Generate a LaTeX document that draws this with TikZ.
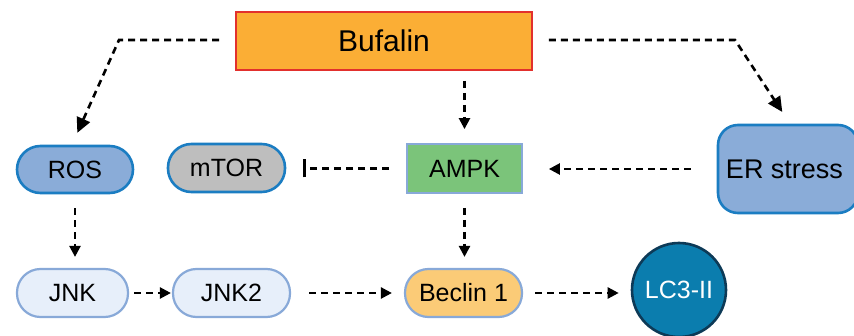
\documentclass[tikz,border=0pt]{standalone}
\usepackage{fontspec}
\setmainfont{Liberation Sans}
\usetikzlibrary{arrows.meta}
\definecolor{bufF}{HTML}{FBAE35}
\definecolor{bufD}{HTML}{E2302D}
\definecolor{rosF}{HTML}{8AACD8}
\definecolor{blueD}{HTML}{1B7DC2}
\definecolor{grayF}{HTML}{BEBEBE}
\definecolor{ampkF}{HTML}{7BC47A}
\definecolor{lightD}{HTML}{88A9D8}
\definecolor{jnkF}{HTML}{E7EFFA}
\definecolor{becF}{HTML}{FBCB77}
\definecolor{lcF}{HTML}{0B7DAE}
\definecolor{lcD}{HTML}{0D3A57}
\tikzset{
  pill/.style={draw, line width=2pt, rounded corners=23.5pt, inner sep=0pt, font=\fontsize{25}{29}\selectfont},
  boxnode/.style={draw, inner sep=0pt, font=\fontsize{25}{29}\selectfont},
  conn/.style={line width=2.4pt, dash pattern=on 7pt off 5pt, -{Triangle[length=11pt,width=11pt]}},
  bigconn/.style={line width=2.6pt, dash pattern=on 7pt off 5pt, -{Triangle[length=15pt,width=14pt]}, line join=miter},
  inhib/.style={line width=2.4pt, dash pattern=on 7pt off 5pt, -{Bar[width=18pt,line width=3pt]}}
}
\begin{document}
\begin{tikzpicture}[x=1pt,y=-1pt]
\useasboundingbox[fill=white] (0,0) rectangle (854,336);
% nodes
\node[boxnode, fill=bufF, draw=bufD, line width=1.8pt, minimum width=296pt, minimum height=58pt, font=\fontsize{30}{34}\selectfont] (buf) at (384,41) {Bufalin};
\node[pill, fill=rosF, draw=blueD, line width=2.6pt, minimum width=116pt, minimum height=47pt] (ros) at (75,169.5) {ROS};
\node[pill, fill=grayF, draw=blueD, line width=2.6pt, minimum width=117pt, minimum height=48pt] (mtor) at (226.5,168) {mTOR};
\node[boxnode, fill=ampkF, draw=lightD, line width=1.8pt, minimum width=115pt, minimum height=49pt] (ampk) at (464.5,168.5) {AMPK};
\node[boxnode, fill=rosF, draw=blueD, line width=2.6pt, rounded corners=20pt, minimum width=140pt, minimum height=88pt, font=\fontsize{27}{31}\selectfont] (er) at (788,169) {\hspace*{-7pt}ER stress};
\node[pill, fill=jnkF, draw=lightD, line width=2.2pt, minimum width=111pt, minimum height=48pt] (jnk) at (72.5,293) {JNK};
\node[pill, fill=jnkF, draw=lightD, line width=2.2pt, minimum width=117pt, minimum height=48pt] (jnk2) at (231.5,293) {JNK2};
\node[pill, fill=becF, draw=lightD, line width=2.2pt, minimum width=117pt, minimum height=48pt] (bec) at (463.5,293) {Beclin 1};
\node[circle, fill=lcF, draw=lcD, line width=2.6pt, minimum size=94pt, inner sep=0pt, text=white, font=\fontsize{25}{29}\selectfont] (lc) at (679,290) {LC3-II};
% corner coordinates
\coordinate (cl) at (119,40);
\coordinate (cr) at (735,40);
% connectors
\draw[bigconn, shorten <=16pt, shorten >=13pt] (buf.west |- cl) -- (cl) -- (ros.north -| 72,0);
\draw[bigconn, shorten <=16pt, shorten >=14pt] (buf.east |- cr) -- (cr) -- (er.north -| 790,0);
\draw[conn, shorten <=10pt, shorten >=14pt] (buf.south -| ampk.north) -- (ampk.north);
\draw[conn, shorten <=26pt, shorten >=26pt] (er.west) -- (er.west -| ampk.east);
\draw[inhib, shorten <=17pt, shorten >=17pt] (ampk.west) -- (ampk.west -| mtor.east);
\draw[conn, shorten <=14pt, shorten >=11pt] (ros.south) -- (ros.south |- jnk.north);
\draw[conn, shorten <=14pt, shorten >=11pt] (ampk.south) -- (ampk.south |- bec.north);
\draw[conn, shorten <=5pt, shorten >=1pt] (jnk.east) -- (jnk2.west);
\draw[conn, shorten <=18pt, shorten >=12pt] (jnk2.east) -- (bec.west);
\draw[conn, shorten <=12pt, shorten >=12pt] (bec.east) -- (bec.east -| lc.west);
\end{tikzpicture}
\end{document}
